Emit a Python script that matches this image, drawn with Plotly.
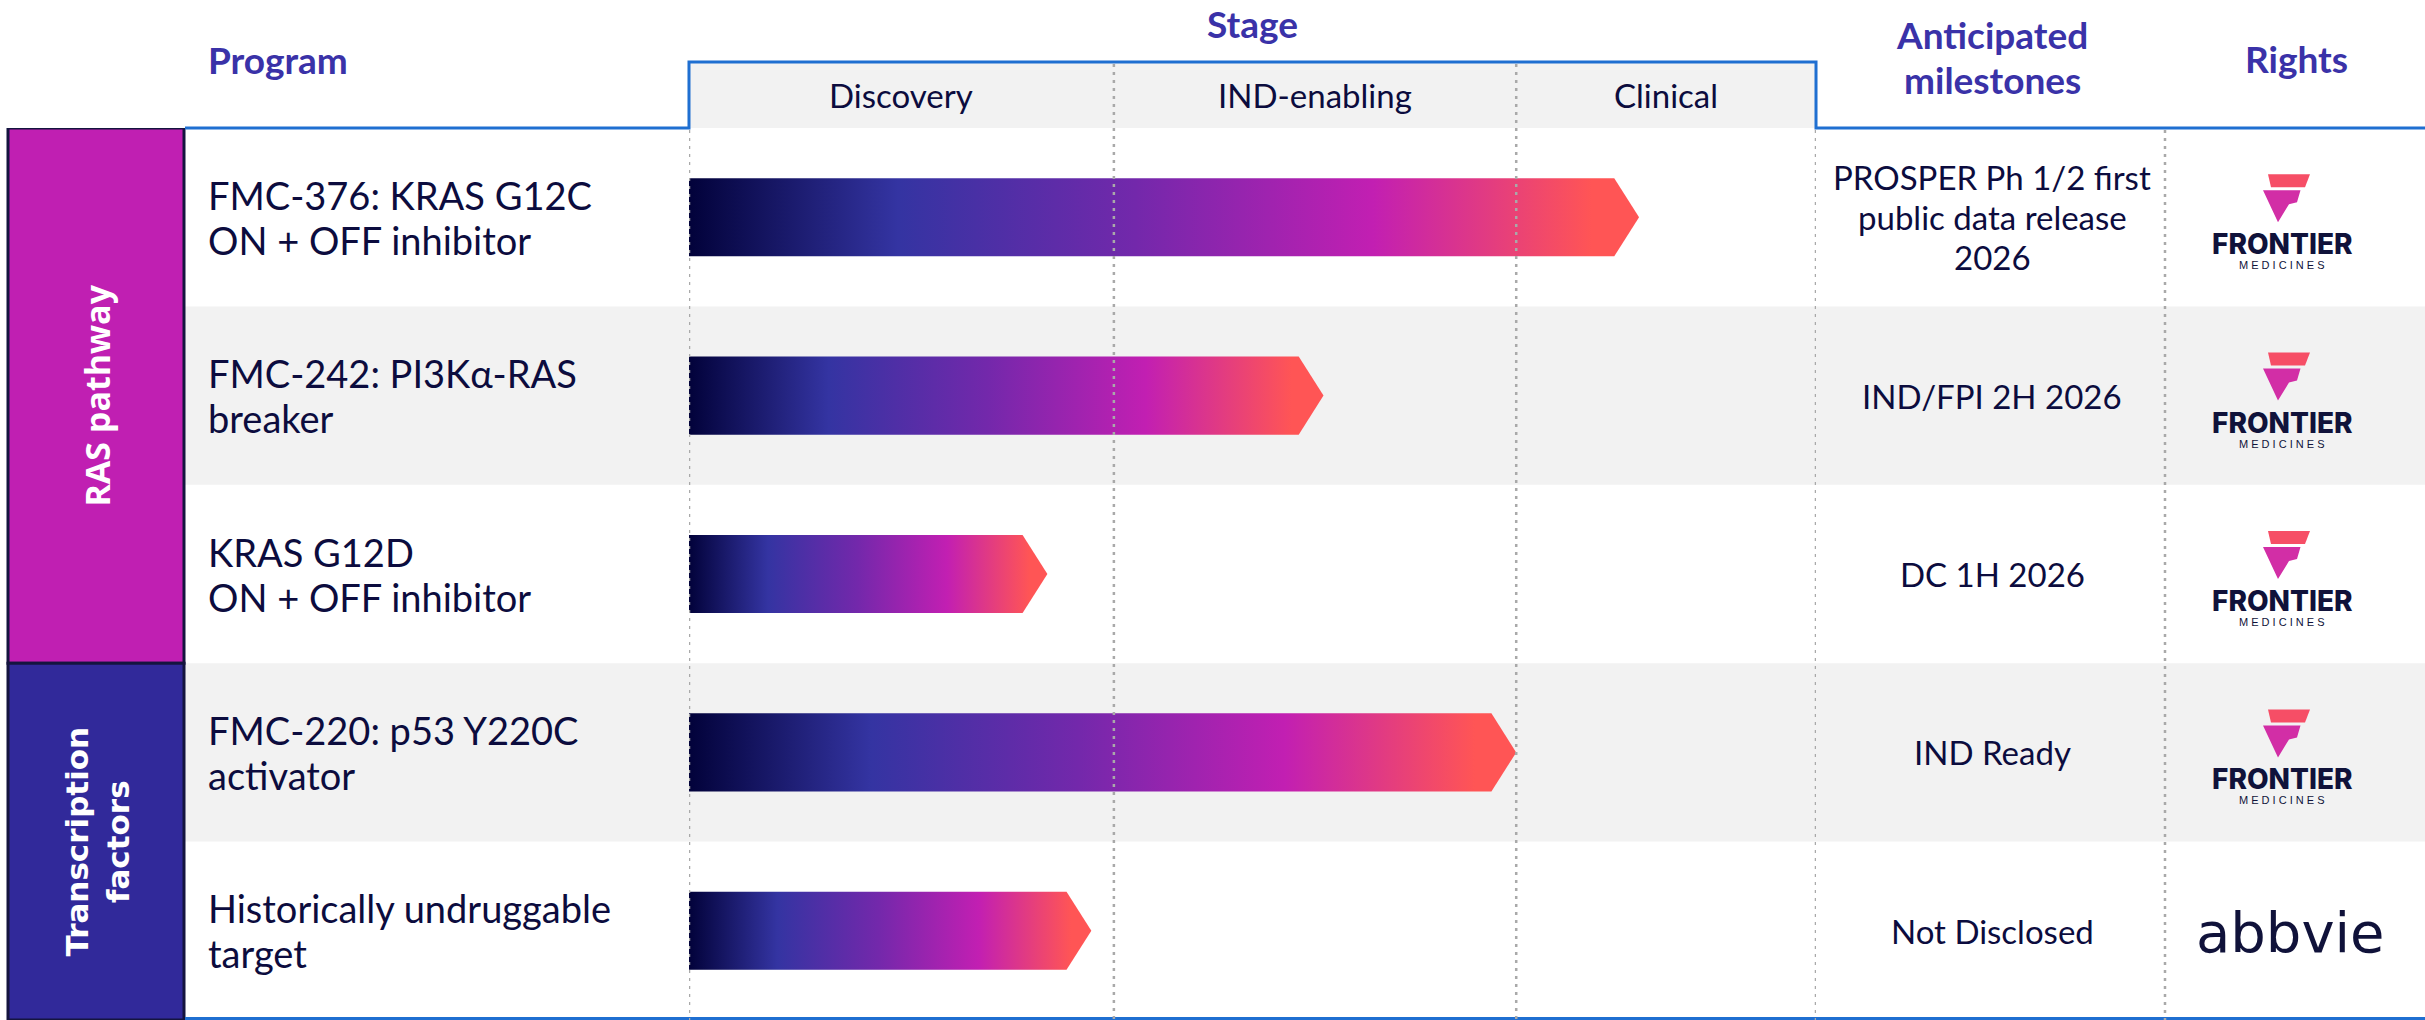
import plotly.graph_objects as go

# ---------------- pipeline data ----------------
groups = ["RAS pathway", "Transcription<br>factors"]
group_sizes = [3, 2]
group_colors = ["#c01fb2", "#31299a"]
group_fonts = [("'Open Sans', sans-serif", 34), ("'DejaVu Sans', sans-serif", 31)]

programs = [
    ["FMC-376: KRAS G12C", "ON + OFF inhibitor"],
    ["FMC-242: PI3Kα-RAS", "breaker"],
    ["KRAS G12D", "ON + OFF inhibitor"],
    ["FMC-220: p53 Y220C", "activator"],
    ["Historically undruggable", "target"],
]

stages = ["Discovery", "IND-enabling", "Clinical"]
stage_edges = [0, 37.7, 73.4, 100]          # stage timeline, % of full width
progress = [84.3, 56.3, 31.8, 73.4, 35.7]    # arrow tip on the stage timeline

milestones = [
    ["PROSPER Ph 1/2 first", "public data release", "2026"],
    ["IND/FPI 2H 2026"],
    ["DC 1H 2026"],
    ["IND Ready"],
    ["Not Disclosed"],
]
rights = ["Frontier", "Frontier", "Frontier", "Frontier", "AbbVie"]

# ---------------- canvas helpers ----------------
W, H = 2425, 1020
TOP = 128                      # bottom edge of the header band
n = len(programs)
ROW = (H - TOP) / n


def px(x):
    return x / W


def py(y):
    return 1 - y / H


def row_center(i):
    return TOP + (i + 0.5) * ROW


NAVY = "#0c0c3e"
HEAD = "#3a32a8"
BLUE = "#1f6fd1"
GRID = "#a9a9a9"
BAND = "#f2f2f2"
FONT = "Lato, 'Open Sans', sans-serif"
LOGO_FONT = "Inter, 'Liberation Sans', Arial, sans-serif"

fig = go.Figure()

# ---------------- gradient arrows ----------------
grad = [[0, "#02023a"], [0.22, "#3434a2"], [0.47, "#7328ab"],
        [0.72, "#c21fb2"], [0.95, "#ff5555"], [1, "#ff5555"]]
half = 0.219
tip = 2.2
for i, p in enumerate(progress):
    xs = [0, p - tip, p, p - tip, 0, 0]
    ys = [i - half, i - half, i, i + half, i + half, i - half]
    fig.add_trace(go.Scatter(
        x=xs, y=ys, mode="lines", fill="toself",
        fillgradient=dict(type="horizontal", colorscale=grad),
        line=dict(width=0, color="rgba(0,0,0,0)"),
        hoverinfo="skip", showlegend=False,
    ))

shapes = []

# alternating row bands
for i in range(n):
    if i % 2 == 1:
        shapes.append(dict(type="rect", xref="paper", yref="y",
                           x0=px(185), x1=1, y0=i - 0.5, y1=i + 0.5,
                           fillcolor=BAND, line=dict(width=0), layer="below"))

# stage header box
shapes.append(dict(type="rect", xref="paper", yref="paper",
                   x0=px(689), x1=px(1816), y0=py(TOP), y1=py(62),
                   fillcolor=BAND, line=dict(width=0), layer="below"))

# group boxes
start = -0.5
for size, col in zip(group_sizes, group_colors):
    shapes.append(dict(type="rect", xref="paper", yref="y",
                       x0=px(8), x1=px(184), y0=start, y1=start + size,
                       fillcolor=col, line=dict(color="#14143f", width=3)))
    start += size

# blue header outline
outline = [(185, TOP), (689, TOP), (689, 62), (1816, 62), (1816, TOP), (W, TOP)]
shapes.append(dict(type="path", xref="paper", yref="paper",
                   path="M " + " L ".join(f"{px(x):.5f},{py(y):.5f}" for x, y in outline),
                   line=dict(color=BLUE, width=3)))
shapes.append(dict(type="line", xref="paper", yref="paper",
                   x0=px(185), x1=1, y0=py(1018.5), y1=py(1018.5),
                   line=dict(color=BLUE, width=3)))

# dotted column dividers
for k, e in enumerate(stage_edges):
    top = 62 if 0 < k < len(stage_edges) - 1 else TOP
    shapes.append(dict(type="line", xref="x", yref="paper", x0=e, x1=e,
                       y0=py(top + 2), y1=py(H),
                       line=dict(color=GRID, width=2.5, dash="3px,5px"), layer="above"))
shapes.append(dict(type="line", xref="paper", yref="paper", x0=px(2165), x1=px(2165),
                   y0=py(TOP + 2), y1=py(H),
                   line=dict(color=GRID, width=2.5, dash="3px,5px"), layer="above"))


def poly(points):
    return "M " + " L ".join(f"{px(x):.5f},{py(y):.5f}" for x, y in points) + " Z"


def ann(x, y, text, size, color=NAVY, bold=False, xanchor="center",
        xref="paper", yref="paper", family=FONT, angle=0, weight=None):
    font = dict(family=family, size=size, color=color)
    if weight is not None:
        font["weight"] = weight
    fig.add_annotation(x=x, y=y, xref=xref, yref=yref,
                       text=f"<b>{text}</b>" if bold else text,
                       showarrow=False, xanchor=xanchor, yanchor="middle",
                       textangle=angle, font=font)


def frontier_logo(cx, cy):
    shapes.append(dict(type="path", xref="paper", yref="paper",
                       path=poly([(cx - 14, cy - 43), (cx + 28, cy - 43),
                                  (cx + 23, cy - 30), (cx - 11, cy - 30)]),
                       fillcolor="#f64e66", line=dict(width=0)))
    shapes.append(dict(type="path", xref="paper", yref="paper",
                       path=poly([(cx - 19, cy - 27), (cx + 18.5, cy - 27),
                                  (cx + 15, cy - 15), (cx + 7, cy - 13),
                                  (cx - 4, cy + 5)]),
                       fillcolor="#d22ea6", line=dict(width=0)))
    ann(px(cx), py(cy + 27), "FRONTIER", 28, color="#10123a",
        family=LOGO_FONT, weight=800)
    ann(px(cx), py(cy + 48), "M E D I C I N E S", 11, color="#10123a",
        family="'Liberation Sans', Arial, sans-serif")


# ---------------- header texts ----------------
ann(px(278), py(59), "Program", 37, color=HEAD, bold=True)
ann(px(1252), py(23), "Stage", 37, color=HEAD, bold=True)
ann(px(1992), py(35), "Anticipated", 37, color=HEAD, bold=True)
ann(px(1992), py(80), "milestones", 37, color=HEAD, bold=True)
ann(px(2296), py(58), "Rights", 37, color=HEAD, bold=True)

for k, s in enumerate(stages):
    ann((stage_edges[k] + stage_edges[k + 1]) / 2, py(95), s, 33, xref="x")

# ---------------- group labels ----------------
start = -0.5
for g, size, (fam, fs) in zip(groups, group_sizes, group_fonts):
    ann(px(97), start + size / 2, g, fs, color="white", bold=True,
        yref="y", family=fam, angle=-90)
    start += size

# ---------------- row texts ----------------
for i in range(n):
    cy = row_center(i)
    lines = programs[i]
    for j, t in enumerate(lines):
        off = (j - (len(lines) - 1) / 2) * 45
        ann(px(206), py(cy + off), t, 38, xanchor="left")
    ms = milestones[i]
    for j, t in enumerate(ms):
        off = (j - (len(ms) - 1) / 2) * 40
        ann(px(1992), py(cy + off), t, 33)
    if rights[i] == "Frontier":
        frontier_logo(2282, cy)
    else:
        ann(px(2290), py(cy + 2), "abbvie", 56, color="#10123a",
            family="'DejaVu Sans', sans-serif")

fig.update_layout(
    width=W, height=H, autosize=False,
    margin=dict(l=0, r=0, t=0, b=0),
    paper_bgcolor="white", plot_bgcolor="rgba(0,0,0,0)",
    xaxis=dict(domain=[px(689), px(1816)], range=[0, 100], visible=False, fixedrange=True),
    yaxis=dict(domain=[0, py(TOP)], range=[n - 0.5, -0.5], visible=False, fixedrange=True),
    shapes=shapes,
    showlegend=False,
)

fig.write_html("out.html")
